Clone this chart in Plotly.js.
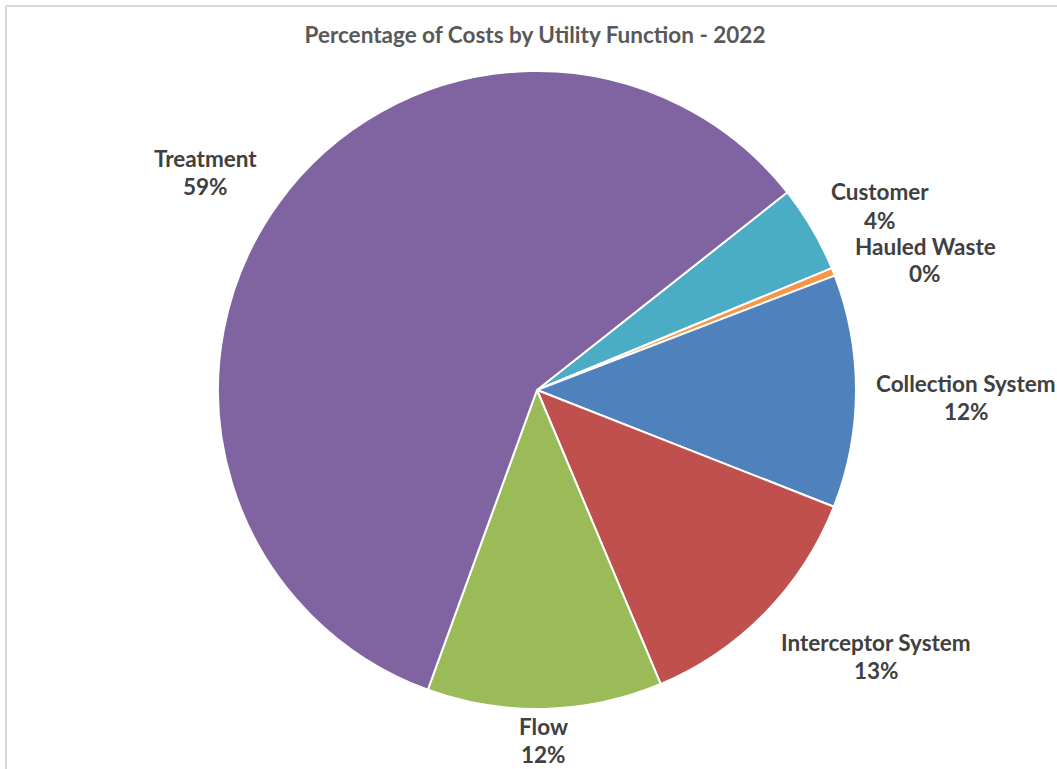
<!DOCTYPE html>
<html>
<head>
<meta charset="utf-8">
<script src="https://cdn.plot.ly/plotly-3.0.1.min.js"></script>
<style>html,body{margin:0;padding:0;background:#fff;}#chart{width:1057px;height:769px;}</style>
</head>
<body>
<div id="chart"></div>
<script>
// Data (clockwise from the Treatment/Customer boundary)
const categories = ["Customer", "Hauled Waste", "Collection System", "Interceptor System", "Flow", "Treatment"];
const shares = [4.4, 0.4, 11.8, 12.7, 11.9, 58.8];
const sliceColors = ["#4BACC6", "#F79646", "#4F81BD", "#C0504D", "#9BBB59", "#8064A2"];

// Label layout (pixel centres of the name line), kept separate from the data
const labelPx = [[880, 192], [925, 246], [966, 383], [876, 642], [543, 726], [205, 158]];

const W = 1057, H = 769;
const total = shares.reduce((a, b) => a + b, 0);
const pctText = shares.map(v => Math.round(v / total * 100) + "%");

const labelFont = {family: "Lato, 'Open Sans', sans-serif", size: 22.5, color: "#404040", weight: 700};
const annotations = [];
categories.forEach((c, i) => {
  const [px, py] = labelPx[i];
  annotations.push({text: "<b>" + c + "</b>", x: px / W, y: 1 - py / H, xref: "paper", yref: "paper",
    xanchor: "center", yanchor: "middle", showarrow: false, font: labelFont});
  annotations.push({text: "<b>" + pctText[i] + "</b>", x: px / W, y: 1 - (py + 28) / H, xref: "paper", yref: "paper",
    xanchor: "center", yanchor: "middle", showarrow: false, font: labelFont});
});

const trace = {
  type: "pie",
  labels: categories,
  values: shares,
  sort: false,
  direction: "clockwise",
  rotation: 51.7,
  textinfo: "none",
  hoverinfo: "label+percent",
  marker: {colors: sliceColors, line: {color: "#ffffff", width: 2}},
  domain: {x: [218 / W, 856 / W], y: [1 - 709 / H, 1 - 71 / H]},
  showlegend: false
};

const layout = {
  width: W, height: H,
  margin: {l: 0, r: 0, t: 0, b: 0},
  paper_bgcolor: "#ffffff",
  title: {text: "<b>Percentage of Costs by Utility Function - 2022</b>", x: 535 / W, xanchor: "center",
    y: 1 - 35 / H, yanchor: "middle", font: {family: "Lato, 'Open Sans', sans-serif", size: 22.5, color: "#595959"}},
  annotations: annotations,
  shapes: [
    {type: "line", xref: "paper", yref: "paper", x0: 6 / W, x1: 1.01, y0: 1 - 6 / H, y1: 1 - 6 / H, line: {color: "#d9d9d9", width: 2}},
    {type: "line", xref: "paper", yref: "paper", x0: 6 / W, x1: 6 / W, y0: -0.01, y1: 1 - 6 / H, line: {color: "#d9d9d9", width: 2}}
  ]
};

Plotly.newPlot("chart", [trace], layout, {displayModeBar: false, staticPlot: true});
</script>
</body>
</html>
